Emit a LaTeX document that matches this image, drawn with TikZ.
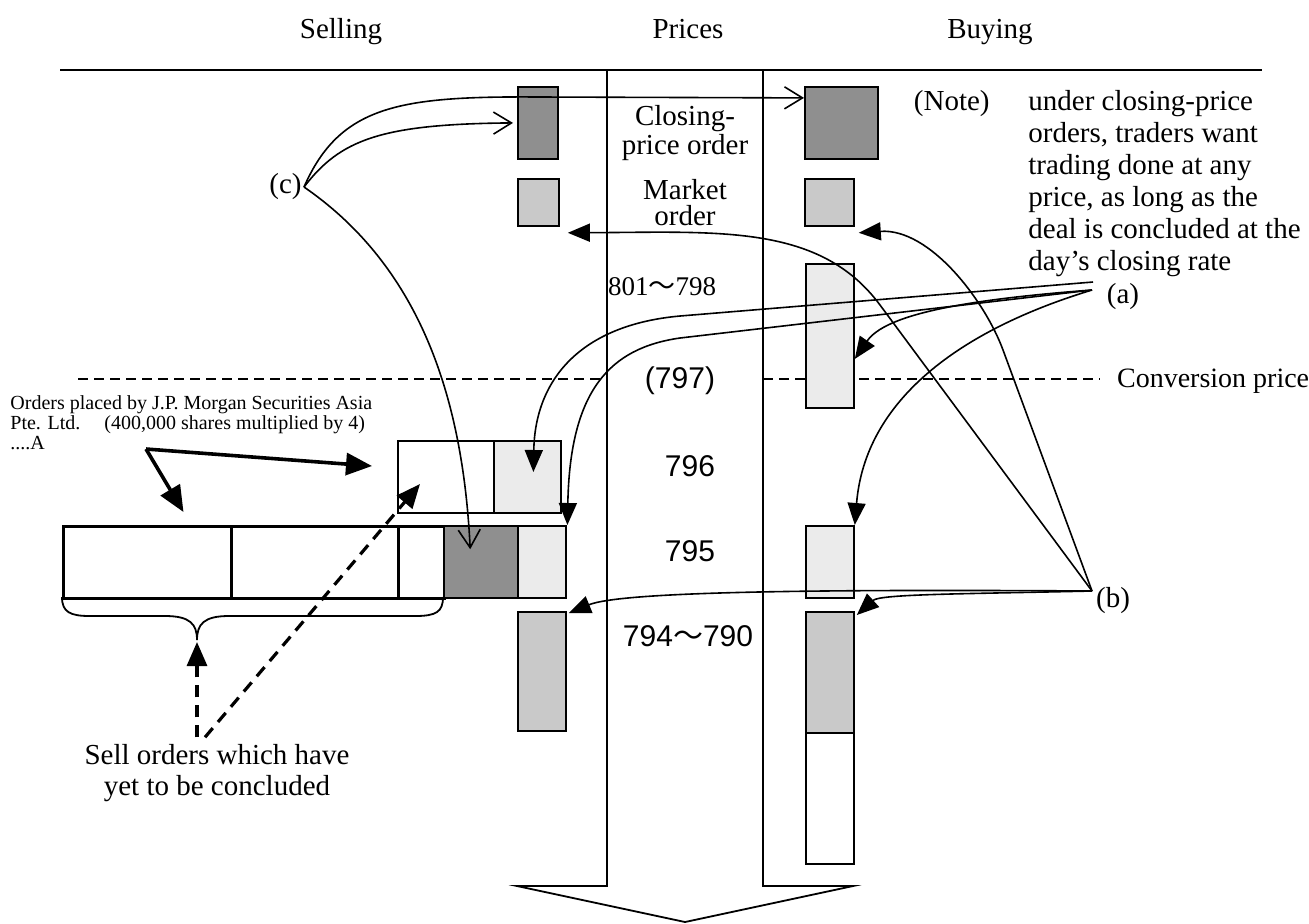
\documentclass[tikz,border=0pt]{standalone}
\usepackage{fontspec}
\setmainfont{Liberation Serif}
\setsansfont{Liberation Sans}
\newfontfamily\cjk{Noto Sans CJK JP}
\usetikzlibrary{arrows.meta}
\definecolor{closegray}{gray}{0.56}
\definecolor{mktgray}{gray}{0.79}
\definecolor{palegray}{gray}{0.92}
\tikzset{
  order/.style={draw,line width=0.9pt,inner sep=0pt,anchor=north west},
  sellcell/.style={order,line width=1.5pt,minimum height=36pt},
  lbl/.style={font=\fontsize{14.5}{13}\selectfont,align=center},
  num/.style={font=\sffamily\fontsize{15}{15}\selectfont},
  thin/.style={line width=0.8pt},
  openarr/.style={thin,-{Straight Barb[length=9pt,width=11pt]}},
  fillarr/.style={thin,-{Triangle[length=11pt,width=9pt]}},
  heavyarr/.style={line width=1.8pt,-{Triangle[length=13pt,width=11pt]}},
  dasharr/.style={line width=1.6pt,dash pattern=on 6pt off 4pt,-{Triangle[length=12pt,width=10pt]}},
  convline/.style={line width=0.7pt,dash pattern=on 5pt off 3pt}
}
\begin{document}
\begin{tikzpicture}[x=0.5pt,y=-0.5pt]
\useasboundingbox (0,0) rectangle (1309,923);
% Headings
\node[lbl,anchor=base] (sellhd) at (341,38) {Selling};
\node[lbl,anchor=base] (pricehd) at (688,38) {Prices};
\node[lbl,anchor=base] (buyhd) at (990,38) {Buying};
\draw[line width=0.9pt] (60,70) -- (1262,70);
% Price column with arrow
\draw[line width=0.9pt] (607,70) -- (607,886) -- (517,886) -- (685,922) -- (853,886) -- (763,886) -- (763,70);
% Conversion price
\draw[convline] (78,379) -- (607,379);
\draw[convline] (763,379) -- (1100,379);
\node[lbl,font=\fontsize{14}{13}\selectfont,anchor=west] (conv) at (1110,381) {Conversion price};
% Price labels
\node[lbl] (closelbl) at (685,133) {Closing-\\price order};
\node[lbl] (mktlbl) at (685,203) {Market\\order};
\node[lbl,font=\fontsize{13.5}{13}\selectfont] (p801) at (662,287) {801{\cjk 〜}798};
\node[num] (p797) at (680,381) {(797)};
\node[num] (p796) at (690,466) {796};
\node[num] (p795) at (690,551) {795};
\node[num] (p794) at (688,636) {794{\cjk 〜}790};
% Buying side
\node[order,fill=closegray,minimum width=36.5pt,minimum height=36pt] (rclose) at (804,86) {};
\node[order,fill=mktgray,minimum width=24.5pt,minimum height=23.5pt] (rmkt) at (804,178) {};
\node[order,fill=palegray,minimum width=24pt,minimum height=72pt] (rhigh) at (805,263) {};
\node[order,fill=palegray,minimum width=24pt,minimum height=36pt] (rmid) at (805,525) {};
\node[order,fill=mktgray,minimum width=24pt,minimum height=60.5pt] (rlow) at (805,611) {};
\node[order,minimum width=24pt,minimum height=65.5pt] (rlowrest) at (805,732) {};
% Selling side
\node[order,fill=closegray,minimum width=20pt,minimum height=36pt] (lclose) at (517,86) {};
\node[order,fill=mktgray,minimum width=20.5pt,minimum height=23.5pt] (lmkt) at (517,178) {};
\node[order,fill=mktgray,minimum width=24pt,minimum height=59.5pt] (llow) at (517,611) {};
\node[order,line width=1.2pt,minimum width=48pt,minimum height=36pt] (ja1) at (397,440) {};
\node[order,line width=1.2pt,fill=palegray,minimum width=33.5pt,minimum height=36pt] (ja2) at (493,440) {};
\node[sellcell,minimum width=84pt] (s1) at (62,525) {};
\node[sellcell,minimum width=83.5pt] (s2) at (230,525) {};
\node[sellcell,minimum width=23pt] (s3) at (397,525) {};
\node[order,line width=1.2pt,fill=closegray,minimum width=37pt,minimum height=36pt] (s4) at (443,525) {};
\node[order,line width=1.2pt,fill=palegray,minimum width=24pt,minimum height=36pt] (s5) at (517,525) {};
% Brace under unsold orders
\draw[line width=0.9pt] (62,597) .. controls (62,612) and (70,616) .. (90,616) -- (165,616)
  .. controls (190,616) and (197,624) .. (197,640)
  .. controls (197,624) and (204,616) .. (229,616) -- (415,616)
  .. controls (436,616) and (443,612) .. (443,597);
\coordinate (bracetip) at (197,642);
% Texts
\node[anchor=north west,align=left,font=\fontsize{10}{10}\selectfont,inner sep=0pt] (jplbl) at (10,395)
  {Orders placed by J.P. Morgan Securities Asia\\Pte. Ltd.\hspace{1.2em}(400,000 shares multiplied by 4)\\....A};
\node[lbl,font=\fontsize{14.5}{15.5}\selectfont] (unsold) at (217,773) {Sell orders which have\\yet to be concluded};
\node[anchor=north east,font=\fontsize{14.5}{16}\selectfont,inner sep=0pt] (notetag) at (990,90) {(Note)};
\node[anchor=north west,align=left,font=\fontsize{14.5}{16}\selectfont,inner sep=0pt] (note) at (1028,90)
  {under closing-price\\orders, traders want\\trading done at any\\price, as long as the\\deal is concluded at the\\day's closing rate};
\node[lbl,anchor=east,inner sep=1pt] (clabel) at (304,187) {(c)};
\node[lbl] (alabel) at (1123,297) {(a)};
\node[lbl] (blabel) at (1113,601) {(b)};
\coordinate (ahubtop) at (1093,282);
\coordinate (ahub) at (1092,290);
\coordinate (bhub) at (1092,591);
\coordinate (jphub) at (146,449);
% (c) arrows
\draw[openarr] (clabel.east) .. controls (340,105) and (400,96) .. (540,97) -- ([yshift=12.5pt]rclose.west);
\draw[openarr] (clabel.east) .. controls (340,140) and (380,124) .. ([xshift=-2pt]lclose.west);
\draw[openarr] (clabel.east) .. controls (410,260) and (462,380) .. ([xshift=-5.5pt,yshift=6.5pt]s4.center);
% (a) arrows
\draw[fillarr] (ahubtop) -- (680,316) .. controls (580,325) and (535,380) .. ([xshift=-14.5pt,yshift=-16pt]ja2.north east);
\draw[fillarr] (ahub) -- (680,338) .. controls (610,348) and (570,390) .. (s5.north east);
\draw[fillarr] (ahub) .. controls (960,300) and (885,315) .. ([yshift=-11.5pt]rhigh.east);
\draw[fillarr] (ahub) .. controls (960,330) and (865,400) .. (rmid.north east);
% (b) arrows
\draw[fillarr] (bhub) -- (880,305) .. controls (820,224) and (720,232) .. ([xshift=4pt,yshift=-3pt]lmkt.south east);
\draw[fillarr] (bhub) -- (1003,350) .. controls (985,301) and (930,228) .. ([xshift=2pt,yshift=-3pt]rmkt.south east);
\draw[fillarr] (bhub) .. controls (800,589) and (620,592) .. ([xshift=1pt,yshift=-1pt]llow.north east);
\draw[fillarr] (bhub) .. controls (960,594) and (880,594) .. ([xshift=1pt,yshift=-2pt]rlow.north east);
% Orders A
\draw[heavyarr] (jphub) -- ([xshift=18pt,yshift=6.5pt]s1.north);
\draw[heavyarr] (jphub) -- ([xshift=-12.5pt,yshift=-13pt]ja1.north west);
% Unsold orders
\draw[dasharr] ([xshift=-10pt]unsold.north) -- (bracetip);
\draw[dasharr] ([xshift=-6pt]unsold.north) -- ([xshift=11.5pt,yshift=-22pt]ja1.north west);
\end{tikzpicture}
\end{document}
